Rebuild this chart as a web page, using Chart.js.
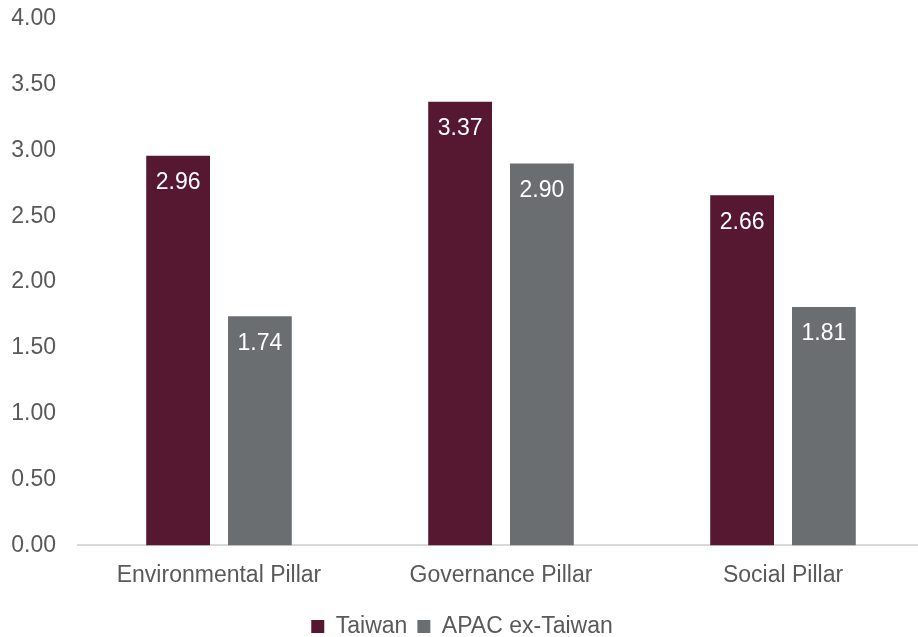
<!DOCTYPE html>
<html>
<head>
<meta charset="utf-8">
<script src="https://cdn.jsdelivr.net/npm/chart.js@4/dist/chart.umd.min.js"></script>
<style>
    html, body { margin: 0; padding: 0; background: #fff; overflow: hidden; }
    #wrap { position: relative; width: 924px; height: 665px; margin-top: -17px; }
</style>
</head>
<body>
<div id="wrap"><canvas id="chart"></canvas></div>
<script>
const categories = ['Environmental Pillar', 'Governance Pillar', 'Social Pillar'];
const taiwanValues = [2.96, 3.37, 2.66];
const apacValues = [1.74, 2.90, 1.81];
const yTicks = [0, 0.5, 1, 1.5, 2, 2.5, 3, 3.5, 4];

const textColor = '#595959';
const fontFamily = '"Liberation Sans", Arial, sans-serif';

// etiquetas de valor dentro das barras
const valueLabels = {
    id: 'valueLabels',
    afterDatasetsDraw(chart) {
        const ctx = chart.ctx;
        ctx.save();
        ctx.fillStyle = '#ffffff';
        ctx.font = '23px ' + fontFamily;
        ctx.textAlign = 'center';
        ctx.textBaseline = 'middle';
        chart.data.datasets.forEach((ds, i) => {
            chart.getDatasetMeta(i).data.forEach((bar, j) => {
                ctx.fillText(ds.data[j].toFixed(2), bar.x, bar.y + 27);
            });
        });
        ctx.restore();
    }
};

const ctx = document.getElementById('chart').getContext('2d');
new Chart(ctx, {
    type: 'bar',
    data: {
        labels: categories,
        datasets: [{
            label: 'Taiwan',
            data: taiwanValues,
            backgroundColor: '#561830',
            categoryPercentage: 0.58,
            barPercentage: 0.78
        }, {
            label: 'APAC ex-Taiwan',
            data: apacValues,
            backgroundColor: '#6b6e71',
            categoryPercentage: 0.58,
            barPercentage: 0.78
        }]
    },
    options: {
        responsive: true,
        maintainAspectRatio: false,
        animation: false,
        layout: { padding: { top: 0, left: 0, right: 0, bottom: 0 } },
        plugins: {
            legend: {
                display: true,
                position: 'bottom',
                labels: {
                    color: textColor,
                    font: { size: 23, family: fontFamily },
                    boxWidth: 13,
                    boxHeight: 13,
                    padding: 10
                }
            },
            tooltip: { enabled: false }
        },
        scales: {
            y: {
                min: 0,
                max: 4,
                afterBuildTicks: scale => { scale.ticks = yTicks.map(v => ({ value: v })); },
                afterFit: scale => { scale.width = 78; },
                ticks: {
                    color: textColor,
                    font: { size: 23, family: fontFamily },
                    padding: 22,
                    callback: v => Number(v).toFixed(2)
                },
                grid: { display: false, drawTicks: false },
                border: { display: false }
            },
            x: {
                ticks: {
                    color: textColor,
                    font: { size: 23, family: fontFamily },
                    padding: 16
                },
                grid: { display: false, drawTicks: false },
                border: { display: true, color: '#d9d9d9', width: 2 }
            }
        }
    },
    plugins: [valueLabels]
});
</script>
</body>
</html>
